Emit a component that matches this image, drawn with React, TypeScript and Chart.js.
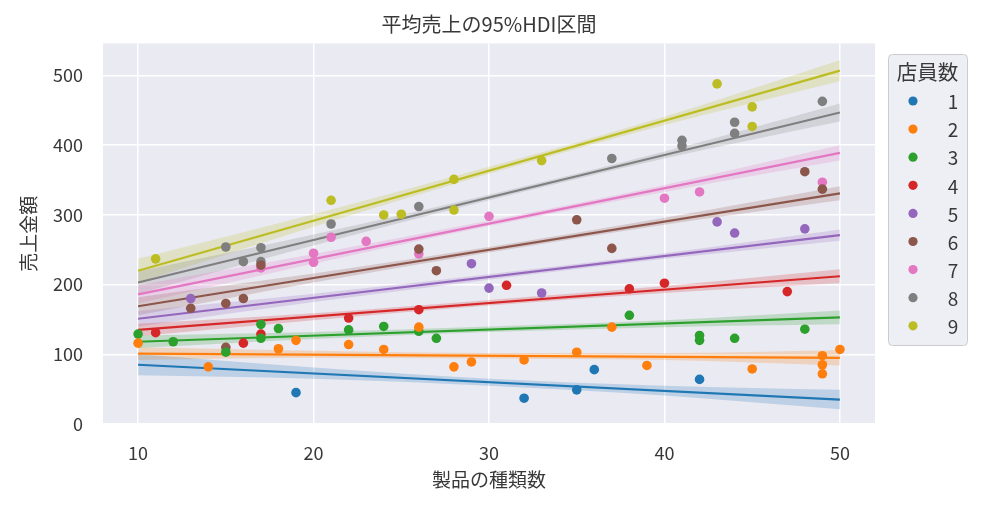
import React, { useEffect, useRef } from 'react';
import Chart from 'chart.js/auto';

const FONT = "'Noto Sans CJK JP', 'Noto Sans', sans-serif";
const TEXT = '#383838';

const staffCounts = ['1', '2', '3', '4', '5', '6', '7', '8', '9'];
const palette = ['#1f77b4', '#ff7f0e', '#2ca02c', '#d62728', '#9467bd', '#8c564b', '#e377c2', '#7f7f7f', '#bcbd22'];

const xTicks = [10, 20, 30, 40, 50];
const yTicks = [0, 100, 200, 300, 400, 500];

// observed shops: [product count, sales]
const staff1 = [[19, 45], [32, 37], [35, 49], [36, 78], [42, 64]];
const staff2 = [[10, 116], [14, 82], [18, 108], [19, 120], [22, 114], [24, 107], [26, 139], [28, 82], [29, 89], [32, 92], [35, 103], [37, 139], [39, 84], [45, 79], [49, 98], [49, 85], [49, 72], [50, 107]];
const staff3 = [[10, 129], [12, 118], [15, 103], [17, 143], [17, 123], [18, 137], [22, 135], [24, 140], [26, 133], [27, 123], [38, 156], [42, 127], [42, 120], [44, 123], [48, 136]];
const staff4 = [[11, 131], [16, 116], [17, 129], [22, 152], [26, 164], [31, 199], [38, 194], [40, 202], [47, 190]];
const staff5 = [[13, 180], [29, 230], [30, 195], [33, 188], [43, 290], [44, 274], [48, 280]];
const staff6 = [[13, 166], [15, 110], [15, 173], [16, 180], [17, 228], [26, 251], [27, 220], [35, 293], [37, 252], [48, 362], [49, 337]];
const staff7 = [[17, 224], [20, 245], [20, 232], [21, 268], [23, 262], [26, 244], [30, 298], [40, 324], [42, 333], [49, 347]];
const staff8 = [[15, 254], [16, 233], [17, 253], [17, 233], [21, 287], [26, 312], [37, 381], [41, 407], [41, 399], [44, 433], [44, 417], [49, 463]];
const staff9 = [[11, 237], [21, 321], [24, 300], [25, 301], [28, 351], [28, 307], [33, 378], [43, 488], [45, 455], [45, 427]];
const staffPoints = [staff1, staff2, staff3, staff4, staff5, staff6, staff7, staff8, staff9];

// mean line at x = 10 and x = 50
const lineAt10 = [85, 101, 118, 135, 151, 169, 186, 203, 220];
const lineAt50 = [35, 95, 153, 212, 271, 331, 389, 447, 507];

// 95% HDI band, read at x = 10, 20, 30, 40, 50
const bandX = [10, 20, 30, 40, 50];
const bandLower = [
  [70, 65, 55, 41, 21],
  [92, 95, 94, 92, 84],
  [109, 122, 132, 139, 143],
  [126, 149, 170, 188, 202],
  [140, 175, 207, 237, 263],
  [156, 203, 246, 286, 321],
  [173, 230, 284, 333, 378],
  [187, 256, 321, 381, 434],
  [203, 283, 359, 429, 492],
];
const bandUpper = [
  [100, 81, 65, 55, 49],
  [110, 105, 102, 102, 106],
  [127, 132, 140, 149, 163],
  [144, 159, 178, 198, 222],
  [162, 187, 215, 245, 279],
  [182, 216, 254, 296, 341],
  [199, 244, 292, 343, 400],
  [219, 272, 329, 391, 460],
  [237, 301, 369, 441, 522],
];

const withAlpha = (hex: string, a: number) => {
  const n = parseInt(hex.slice(1), 16);
  return `rgba(${(n >> 16) & 255}, ${(n >> 8) & 255}, ${n & 255}, ${a})`;
};

const plotBackground = {
  id: 'plotBackground',
  beforeDraw(chart: any) {
    const { ctx, chartArea } = chart;
    ctx.save();
    ctx.fillStyle = '#eaeaf2';
    ctx.fillRect(chartArea.left, chartArea.top, chartArea.right - chartArea.left, chartArea.bottom - chartArea.top);
    ctx.restore();
  },
};

const titleAndLegend = {
  id: 'titleAndLegend',
  afterDraw(chart: any) {
    const { ctx, chartArea } = chart;
    ctx.save();
    ctx.fillStyle = TEXT;
    ctx.textBaseline = 'middle';
    ctx.textAlign = 'center';
    ctx.font = `20px ${FONT}`;
    ctx.fillText('平均売上の95%HDI区間', (chartArea.left + chartArea.right) / 2, 24);

    // legend
    const bx = 888;
    const by = 54;
    const bw = 79;
    const bh = 291;
    ctx.beginPath();
    ctx.roundRect(bx + 0.5, by + 0.5, bw, bh, 4);
    ctx.fillStyle = 'rgba(234, 234, 242, 0.8)';
    ctx.fill();
    ctx.strokeStyle = '#cccccc';
    ctx.lineWidth = 1;
    ctx.stroke();

    ctx.fillStyle = TEXT;
    ctx.font = `20.5px ${FONT}`;
    ctx.fillText('店員数', bx + bw / 2, 72);
    staffCounts.forEach((label, i) => {
      const y = 101 + i * 28.1;
      ctx.beginPath();
      ctx.arc(913, y, 4.6, 0, Math.PI * 2);
      ctx.fillStyle = palette[i];
      ctx.fill();
      ctx.fillStyle = TEXT;
      ctx.textAlign = 'center';
      ctx.font = `19px ${FONT}`;
      ctx.fillText(label, 953, y + 1);
    });
    ctx.restore();
  },
};

const App = () => {
  const canvasRef = useRef<HTMLCanvasElement>(null);

  useEffect(() => {
    const canvas = canvasRef.current;
    if (!canvas) return;

    const datasets: any[] = [];
    staffCounts.forEach((label, i) => {
      const color = palette[i];
      datasets.push({
        type: 'line',
        label: `band-lo-${label}`,
        data: bandX.map((x, j) => ({ x, y: bandLower[i][j] })),
        borderWidth: 0,
        pointRadius: 0,
        fill: false,
        cubicInterpolationMode: 'monotone',
        order: 3,
      });
      datasets.push({
        type: 'line',
        label: `band-hi-${label}`,
        data: bandX.map((x, j) => ({ x, y: bandUpper[i][j] })),
        borderWidth: 0,
        pointRadius: 0,
        fill: '-1',
        backgroundColor: withAlpha(color, 0.22),
        cubicInterpolationMode: 'monotone',
        order: 3,
      });
      datasets.push({
        type: 'line',
        label: `line-${label}`,
        data: [
          { x: 10, y: lineAt10[i] },
          { x: 50, y: lineAt50[i] },
        ],
        borderColor: color,
        borderWidth: 2.2,
        pointRadius: 0,
        fill: false,
        order: 2,
      });
      datasets.push({
        type: 'scatter',
        label,
        data: staffPoints[i].map(([x, y]) => ({ x, y })),
        backgroundColor: color,
        borderWidth: 0,
        pointRadius: 4.8,
        order: 1,
      });
    });

    const chart = new Chart(canvas, {
      type: 'scatter',
      data: { datasets },
      plugins: [plotBackground, titleAndLegend],
      options: {
        animation: false,
        responsive: true,
        maintainAspectRatio: false,
        layout: { padding: { top: 43.5, right: 112, bottom: 0, left: 0 } },
        plugins: {
          legend: { display: false },
          tooltip: { enabled: false },
          title: { display: false },
        },
        scales: {
          x: {
            type: 'linear',
            min: 8,
            max: 52,
            afterBuildTicks: (scale: any) => {
              scale.ticks = xTicks.map((value) => ({ value }));
            },
            afterFit: (scale: any) => {
              scale.height = 83;
            },
            grid: { color: '#ffffff', lineWidth: 1.5, drawTicks: false },
            border: { display: false },
            ticks: { color: TEXT, font: { family: FONT, size: 18 }, padding: 18 },
            title: {
              display: true,
              text: '製品の種類数',
              color: TEXT,
              font: { family: FONT, size: 19 },
              padding: { top: 0, bottom: 15.6 },
            },
          },
          y: {
            type: 'linear',
            min: 0,
            max: 546,
            afterBuildTicks: (scale: any) => {
              scale.ticks = yTicks.map((value) => ({ value }));
            },
            afterFit: (scale: any) => {
              scale.width = 103;
            },
            grid: { color: '#ffffff', lineWidth: 1.5, drawTicks: false },
            border: { display: false },
            ticks: { color: TEXT, font: { family: FONT, size: 18 }, padding: 20 },
            title: {
              display: true,
              text: '売上金額',
              color: TEXT,
              font: { family: FONT, size: 19 },
              padding: { top: 17.6, bottom: 0 },
            },
          },
        },
      } as any,
    });

    return () => {
      chart.destroy();
    };
  }, []);

  return (
    <div style={{ position: 'absolute', left: 0, top: 0, width: 987, height: 507, background: '#ffffff' }}>
      <canvas ref={canvasRef}></canvas>
    </div>
  );
};

export default App;
